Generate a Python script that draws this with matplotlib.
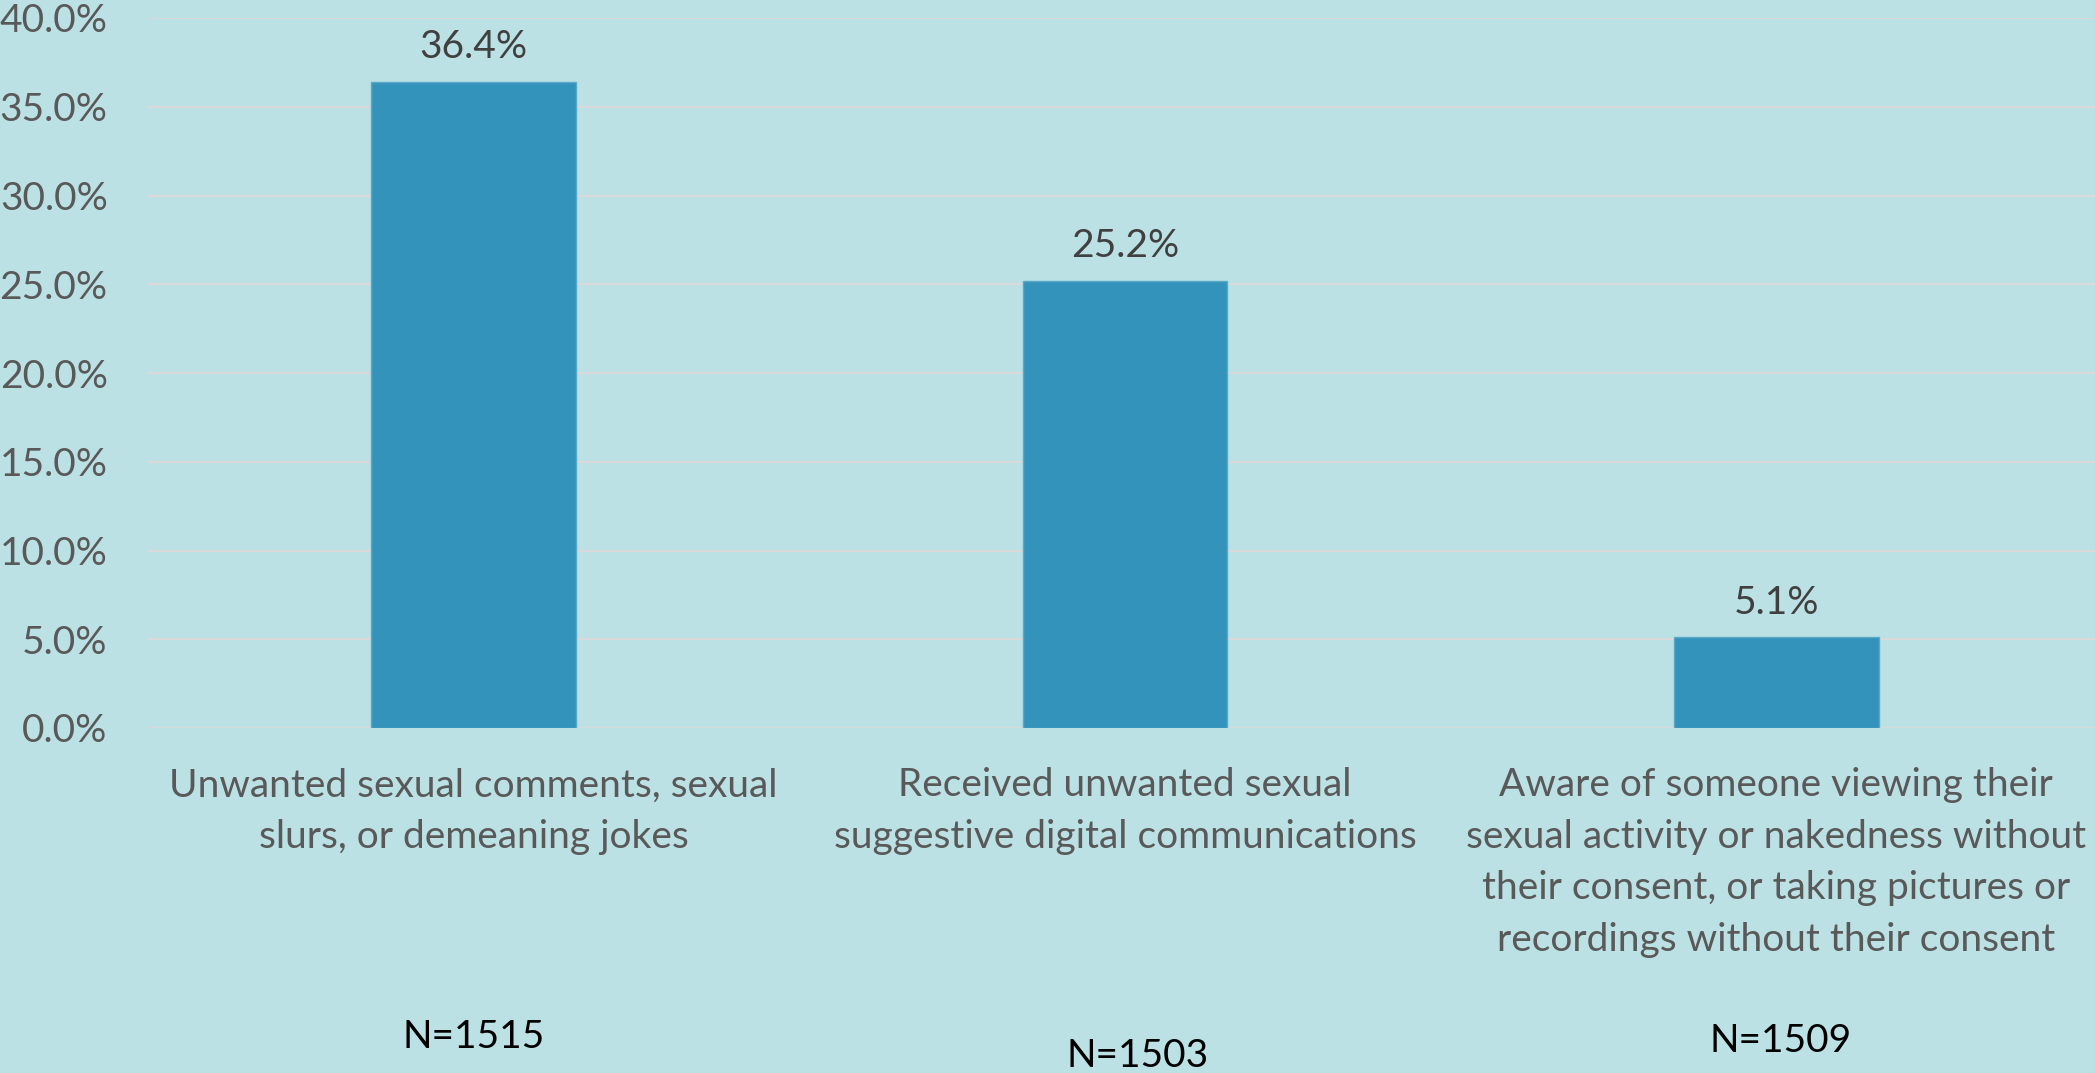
import matplotlib
matplotlib.use("Agg")
import matplotlib.pyplot as plt
from matplotlib.ticker import PercentFormatter, MultipleLocator

categories = [
    "Unwanted sexual comments, sexual\nslurs, or demeaning jokes",
    "Received unwanted sexual\nsuggestive digital communications",
    "Aware of someone viewing their\nsexual activity or nakedness without\ntheir consent, or taking pictures or\nrecordings without their consent",
]
values = [36.4, 25.2, 5.1]
n_labels = ["N=1515", "N=1503", "N=1509"]

BG = "#BCE1E5"
BAR = "#3493BA"
GRID = "#D9D9D9"
TXT = "#595959"
VAL = "#404040"

plt.rcParams['font.family'] = ['Lato', 'DejaVu Sans']

W, H, DPI = 2095, 1073, 100
fig = plt.figure(figsize=(W / DPI, H / DPI), dpi=DPI, facecolor=BG)
ax_left, ax_right, ax_top, ax_bot = 148, 2102, 18, 728
ax = fig.add_axes([ax_left / W, 1 - ax_bot / H, (ax_right - ax_left) / W, (ax_bot - ax_top) / H])
ax.set_facecolor(BG)

x = list(range(len(values)))
bars = ax.bar(x, values, width=0.314, color=BAR, edgecolor="#5AA9C9", linewidth=1.0, zorder=3)

ax.set_xlim(-0.5, len(values) - 0.5)
ax.set_ylim(0, 40)
ax.yaxis.set_major_locator(MultipleLocator(5))
ax.yaxis.set_major_formatter(PercentFormatter(decimals=1))
ax.grid(axis='y', color=GRID, linewidth=1.5, zorder=0)
ax.set_axisbelow(True)
for s in ax.spines.values():
    s.set_visible(False)
ax.tick_params(axis='y', length=0, pad=29, labelsize=28, labelcolor=TXT)
ax.set_xticks([])

fs = 28
for xi, v in zip(x, values):
    ax.annotate(f"{v:.1f}%", (xi, v), xytext=(0, 17), textcoords="offset points",
                ha='center', va='baseline', fontsize=fs, color=VAL)

trans = ax.get_xaxis_transform()
for xi, lab in zip(x, categories):
    ax.text(xi, -0.0555, lab, transform=trans, ha='center', va='top',
            fontsize=fs, color=TXT, linespacing=1.53, multialignment='center')

n_dx = [0.0, 0.02, 0.006]
n_y = [-0.4507, -0.4775, -0.4563]
for xi, lab, dx, yy in zip(x, n_labels, n_dx, n_y):
    ax.text(xi + dx, yy, lab, transform=trans, ha='center', va='baseline',
            fontsize=fs, color='black')

fig.savefig("out.png", dpi=DPI, facecolor=BG)
